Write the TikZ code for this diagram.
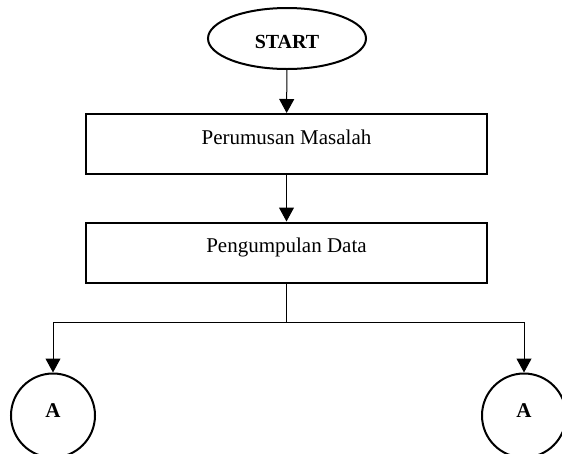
\documentclass[tikz,border=0pt]{standalone}
\usepackage{fontspec}
\setmainfont{Liberation Serif}
\usetikzlibrary{arrows.meta,shapes.geometric}

\tikzset{
  terminal/.style={ellipse, draw, line width=2pt, minimum width=158pt, minimum height=61pt,
    inner sep=2pt, font=\fontsize{20}{24}\selectfont\bfseries, text height=19pt, text depth=0pt},
  processbox/.style={rectangle, draw, line width=2pt, minimum width=401pt, minimum height=60pt,
    inner sep=0pt, font=\fontsize{21}{25}\selectfont, text height=14pt, text depth=14pt},
  connector/.style={circle, draw, line width=2pt, minimum size=84pt, inner sep=0pt,
    font=\fontsize{21}{25}\selectfont\bfseries, text height=14pt, text depth=11pt},
  flow/.style={line width=1pt, -{Triangle[length=14pt,width=15pt]}},
  plainline/.style={line width=1pt}
}

\begin{document}
\begin{tikzpicture}[x=1pt,y=-1pt]
  \useasboundingbox (0,0) rectangle (562,453);

  % flowchart blocks
  \node[terminal]   (start) at (287,38.5)  {START};
  \node[processbox] (p1)    at (286.5,144) {Perumusan Masalah};
  \node[processbox] (p2)    at (286.5,252.5) {Pengumpulan Data};

  % off-page connectors
  \node[connector] (a1) at (53,415.5)  {A};
  \node[connector] (a2) at (524,415.5) {A};

  % branching point below the second block
  \coordinate (split) at (286.5,322);

  % connecting lines
  \draw[flow] (start) -- (p1);
  \draw[flow] (p1) -- (p2);
  \draw[plainline] (p2) -- (split);
  \draw[flow] (split) -| (a1);
  \draw[flow] (split) -| (a2);
\end{tikzpicture}
\end{document}
